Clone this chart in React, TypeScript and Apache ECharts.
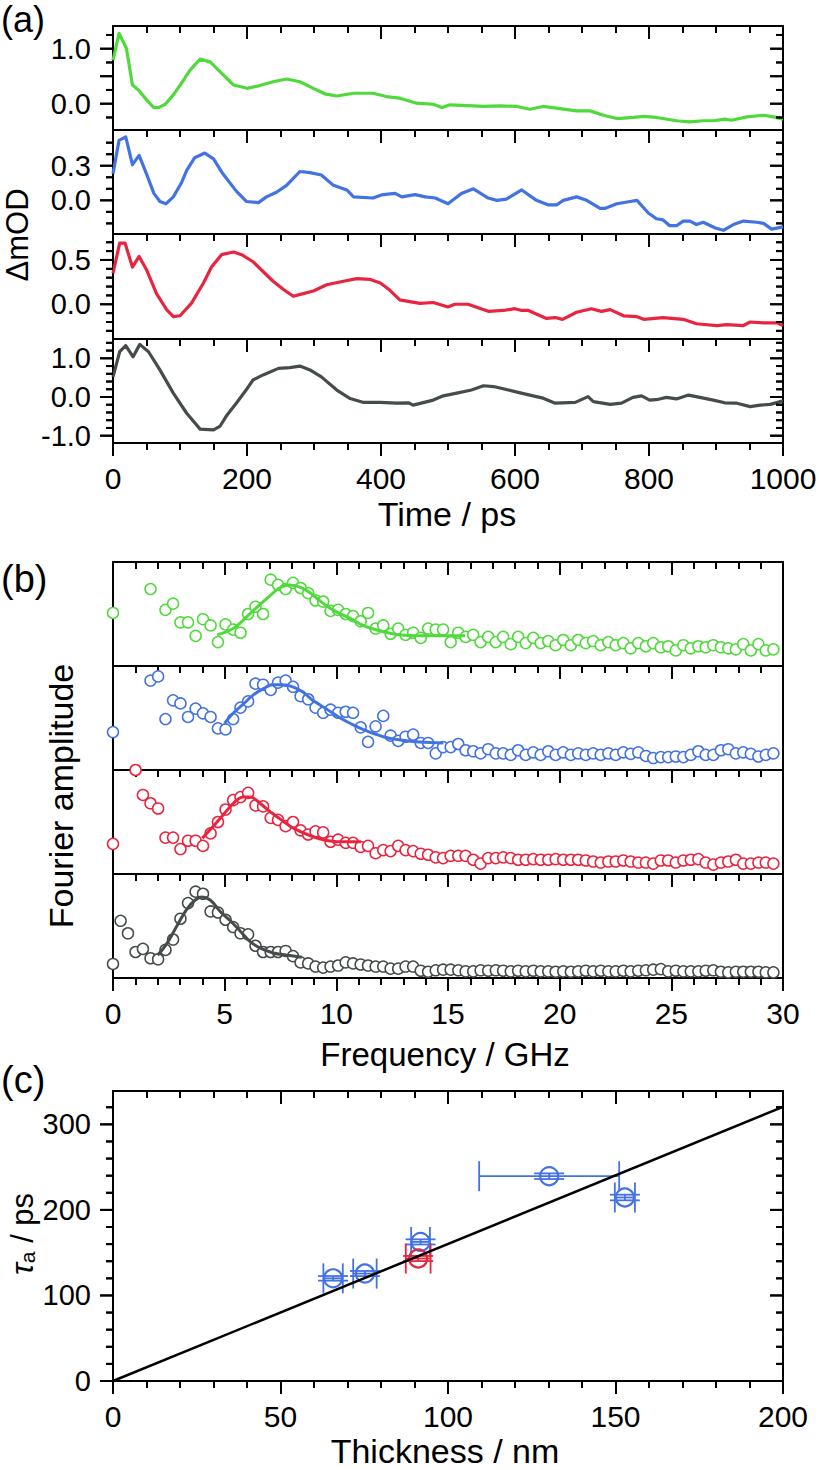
import React, { useEffect, useRef } from "react";
import * as echarts from "echarts";

const FONT = "'Liberation Sans', Arial, Helvetica, sans-serif";

const GREEN = "#4fd93b";
const BLUE = "#4272e3";
const RED = "#e9243f";
const DARK = "#464b4b";

// ---------------- Panel (a): ΔmOD vs time (ps) ----------------
const GREEN_T = [0, 9, 20, 29, 38, 50, 61, 68, 78, 90, 102, 115, 130, 145, 160, 180, 200, 219, 239, 259, 279, 299, 316, 334, 359, 388, 408, 428, 453, 478, 491, 503, 538, 553, 578, 603, 622, 642, 667, 692, 712, 732, 752, 777, 792, 811, 841, 861, 881, 896, 913, 923, 946, 971, 986, 1000];
const GREEN_V = [0.79, 1.28, 1.01, 0.34, 0.25, 0.07, -0.07, -0.07, -0.01, 0.16, 0.37, 0.61, 0.81, 0.76, 0.58, 0.34, 0.28, 0.33, 0.4, 0.45, 0.4, 0.28, 0.18, 0.14, 0.19, 0.19, 0.13, 0.1, 0.01, -0.01, -0.07, -0.02, -0.04, -0.05, -0.04, -0.05, -0.1, -0.05, -0.09, -0.13, -0.13, -0.21, -0.27, -0.25, -0.23, -0.25, -0.31, -0.33, -0.31, -0.31, -0.28, -0.3, -0.24, -0.21, -0.24, -0.28];

const BLUE_T = [0, 9, 19, 29, 39, 50, 61, 70, 79, 90, 102, 110, 122, 137, 150, 164, 184, 199, 217, 229, 244, 259, 279, 294, 311, 329, 349, 359, 388, 403, 421, 431, 451, 466, 481, 500, 520, 538, 560, 573, 587, 610, 632, 650, 662, 672, 692, 707, 727, 734, 752, 772, 782, 799, 811, 821, 831, 841, 851, 861, 871, 881, 899, 911, 926, 941, 961, 971, 983, 1000];
const BLUE_V = [0.23, 0.52, 0.55, 0.31, 0.39, 0.23, 0.06, -0.01, -0.03, 0.03, 0.15, 0.26, 0.37, 0.41, 0.36, 0.23, 0.08, -0.01, -0.02, 0.03, 0.07, 0.13, 0.25, 0.24, 0.22, 0.13, 0.09, 0.03, 0.02, 0.05, 0.06, 0.03, 0.05, 0.03, 0.02, -0.03, 0.06, 0.1, 0.02, 0.0, 0.01, 0.09, 0.0, -0.04, -0.04, 0.0, 0.03, 0.0, -0.07, -0.07, -0.03, -0.01, 0.0, -0.11, -0.16, -0.17, -0.22, -0.22, -0.18, -0.18, -0.21, -0.19, -0.24, -0.26, -0.21, -0.18, -0.19, -0.2, -0.25, -0.23];

const RED_T = [0, 10, 18, 29, 39, 50, 65, 80, 90, 100, 117, 135, 147, 162, 180, 192, 209, 224, 239, 254, 269, 284, 299, 319, 344, 364, 384, 399, 413, 428, 443, 458, 478, 500, 510, 530, 560, 583, 600, 610, 620, 647, 660, 671, 692, 714, 729, 742, 762, 782, 792, 821, 851, 871, 901, 916, 941, 951, 971, 991, 1000];
const RED_V = [0.35, 0.69, 0.69, 0.42, 0.54, 0.39, 0.12, -0.06, -0.14, -0.13, 0.01, 0.24, 0.42, 0.56, 0.59, 0.56, 0.48, 0.37, 0.26, 0.17, 0.09, 0.12, 0.15, 0.22, 0.26, 0.29, 0.28, 0.24, 0.16, 0.05, 0.03, 0.01, 0.02, -0.03, 0.0, 0.0, -0.08, -0.07, -0.05, -0.07, -0.07, -0.16, -0.15, -0.17, -0.09, -0.05, -0.08, -0.06, -0.13, -0.14, -0.17, -0.15, -0.17, -0.22, -0.24, -0.23, -0.24, -0.2, -0.21, -0.21, -0.24];

const BLACK_T = [0, 10, 19, 30, 40, 53, 70, 90, 110, 130, 150, 160, 170, 184, 197, 209, 224, 247, 264, 279, 294, 311, 334, 354, 374, 399, 423, 441, 448, 478, 493, 513, 535, 553, 568, 600, 627, 642, 660, 690, 709, 717, 742, 759, 776, 789, 801, 814, 826, 841, 859, 876, 896, 913, 931, 951, 966, 981, 1000];
const BLACK_V = [0.52, 1.17, 1.33, 1.04, 1.36, 1.17, 0.7, 0.1, -0.42, -0.83, -0.85, -0.75, -0.47, -0.16, 0.14, 0.44, 0.57, 0.74, 0.76, 0.8, 0.7, 0.52, 0.18, -0.04, -0.14, -0.14, -0.16, -0.15, -0.21, -0.08, 0.03, 0.1, 0.18, 0.29, 0.27, 0.14, 0.03, -0.03, -0.16, -0.14, 0.01, -0.12, -0.19, -0.16, -0.01, 0.03, -0.08, -0.06, -0.01, -0.05, 0.05, -0.01, -0.08, -0.15, -0.16, -0.25, -0.21, -0.19, -0.1];

// y ranges and ticks of panel (a)
const A_GREEN_RANGE = [-0.478, 1.413];
const A_GREEN_MAJOR = [0, 0.5, 1.0];
const A_GREEN_MINOR = [-0.25, 0.25, 0.75, 1.25];
const A_BLUE_RANGE = [-0.292, 0.61];
const A_BLUE_MAJOR = [0, 0.3];
const A_BLUE_MINOR = [-0.2, -0.1, 0.1, 0.2, 0.4, 0.5];
const A_RED_RANGE = [-0.392, 0.793];
const A_RED_MAJOR = [0, 0.5];
const A_RED_MINOR = [-0.3, -0.2, -0.1, 0.1, 0.2, 0.3, 0.4, 0.6, 0.7];
const A_BLACK_RANGE = [-1.189, 1.499];
const A_BLACK_MAJOR = [-1, 0, 1];
const A_BLACK_MINOR = [-0.8, -0.6, -0.4, -0.2, 0.2, 0.4, 0.6, 0.8, 1.2, 1.4];

// ---------------- Panel (b): Fourier amplitude (normalised per strip) ----------------
const FREQ = [
  0, 0.34, 0.67, 1.01, 1.34, 1.68, 2.02, 2.35, 2.69, 3.02,
  3.36, 3.7, 4.03, 4.37, 4.7, 5.04, 5.38, 5.71, 6.05, 6.38,
  6.72, 7.06, 7.39, 7.73, 8.06, 8.4, 8.74, 9.07, 9.41, 9.74,
  10.08, 10.42, 10.75, 11.09, 11.42, 11.76, 12.1, 12.43, 12.77, 13.1,
  13.44, 13.78, 14.11, 14.45, 14.78, 15.12, 15.46, 15.79, 16.13, 16.46,
  16.8, 17.14, 17.47, 17.81, 18.14, 18.48, 18.82, 19.15, 19.49, 19.82,
  20.16, 20.5, 20.83, 21.17, 21.5, 21.84, 22.18, 22.51, 22.85, 23.18,
  23.52, 23.86, 24.19, 24.53, 24.86, 25.2, 25.54, 25.87, 26.21, 26.54,
  26.88, 27.22, 27.55, 27.89, 28.22, 28.56, 28.9, 29.23, 29.57,
];
const GREEN_AMP = [
  0.51, null, null, null, null, 0.74, null, 0.54, 0.6, 0.42,
  0.42, 0.29, 0.45, 0.39, 0.23, 0.4, 0.35, 0.32, 0.5, 0.57,
  0.5, 0.83, 0.78, 0.74, 0.8, 0.75, 0.7, 0.63, 0.62, 0.53,
  0.54, 0.5, 0.48, 0.43, 0.51, 0.36, 0.39, 0.31, 0.36, 0.3,
  0.32, 0.27, 0.36, 0.35, 0.35, 0.23, 0.32, 0.28, 0.3, 0.23,
  0.28, 0.23, 0.28, 0.21, 0.28, 0.22, 0.27, 0.22, 0.24, 0.2,
  0.25, 0.2, 0.25, 0.22, 0.24, 0.2, 0.23, 0.2, 0.22, 0.17,
  0.22, 0.19, 0.22, 0.18, 0.19, 0.15, 0.2, 0.17, 0.19, 0.18,
  0.2, 0.18, 0.17, 0.16, 0.21, 0.15, 0.21, 0.15, 0.16,
];
const BLUE_AMP = [
  0.365, null, null, null, null, 0.86, 0.9, 0.49, 0.67, 0.64,
  0.51, 0.59, 0.545, 0.51, 0.4, 0.39, 0.49, 0.6, 0.66, 0.83,
  0.82, 0.77, 0.84, 0.86, 0.8, 0.71, 0.68, 0.6, 0.55, 0.58,
  0.55, 0.56, 0.55, 0.41, 0.27, 0.42, 0.52, 0.33, 0.28, 0.32,
  0.34, 0.26, 0.26, 0.16, 0.22, 0.22, 0.25, 0.19, 0.18, 0.16,
  0.2, 0.16, 0.16, 0.145, 0.19, 0.145, 0.17, 0.145, 0.18, 0.145,
  0.17, 0.145, 0.16, 0.145, 0.16, 0.145, 0.16, 0.145, 0.17, 0.155,
  0.17, 0.135, 0.115, 0.124, 0.124, 0.13, 0.124, 0.145, 0.18, 0.145,
  0.145, 0.19, 0.2, 0.16, 0.17, 0.155, 0.13, 0.145, 0.16,
];
const RED_AMP = [
  0.29, null, null, 1.0, 0.76, 0.68, 0.63, 0.35, 0.35, 0.24,
  0.32, 0.32, 0.27, 0.39, 0.5, 0.62, 0.71, 0.74, 0.78, 0.66,
  0.65, 0.54, 0.52, 0.46, 0.5, 0.42, 0.38, 0.41, 0.4, 0.31,
  0.33, 0.3, 0.3, 0.26, 0.27, 0.2, 0.23, 0.22, 0.27, 0.23,
  0.22, 0.195, 0.185, 0.16, 0.153, 0.175, 0.175, 0.175, 0.137, 0.1,
  0.153, 0.153, 0.16, 0.153, 0.137, 0.137, 0.143, 0.137, 0.137, 0.143,
  0.137, 0.137, 0.137, 0.13, 0.12, 0.11, 0.12, 0.12, 0.13, 0.12,
  0.11, 0.11, 0.1, 0.13, 0.13, 0.11, 0.13, 0.137, 0.143, 0.11,
  0.09, 0.11, 0.12, 0.137, 0.1, 0.1, 0.11, 0.11, 0.1,
];
const BLACK_AMP = [
  0.135, 0.55, 0.43, 0.25, 0.28, 0.19, 0.18, 0.27, 0.37, 0.57,
  0.72, 0.83, 0.81, 0.64, 0.63, 0.56, 0.49, 0.43, 0.42, 0.31,
  0.25, 0.25, 0.25, 0.26, 0.21, 0.15, 0.14, 0.11, 0.1, 0.11,
  0.12, 0.15, 0.14, 0.13, 0.12, 0.11, 0.11, 0.09, 0.09, 0.11,
  0.11, 0.07, 0.06, 0.074, 0.08, 0.08, 0.074, 0.064, 0.064, 0.074,
  0.07, 0.074, 0.07, 0.064, 0.07, 0.064, 0.07, 0.064, 0.064, 0.06,
  0.064, 0.06, 0.064, 0.07, 0.064, 0.07, 0.064, 0.064, 0.07, 0.064,
  0.07, 0.074, 0.08, 0.085, 0.064, 0.07, 0.064, 0.064, 0.064, 0.07,
  0.074, 0.06, 0.054, 0.06, 0.06, 0.06, 0.06, 0.054, 0.054,
];

const GREEN_FIT_F = [4.67, 5.38, 5.97, 6.57, 7.0, 7.45, 7.9, 8.34, 8.79, 9.24, 9.84, 10.6, 11.3, 12.1, 12.8, 13.7, 14.7, 15.76];
const GREEN_FIT_A = [0.3, 0.36, 0.47, 0.59, 0.67, 0.75, 0.78, 0.76, 0.71, 0.63, 0.54, 0.46, 0.38, 0.33, 0.3, 0.29, 0.29, 0.29];
const BLUE_FIT_F = [5.0, 5.38, 5.82, 6.27, 6.72, 7.16, 7.6, 8.05, 8.5, 8.94, 9.54, 10.1, 10.7, 11.3, 12.1, 12.8, 13.7, 14.79];
const BLUE_FIT_A = [0.45, 0.545, 0.63, 0.72, 0.78, 0.82, 0.82, 0.8, 0.75, 0.67, 0.59, 0.51, 0.44, 0.38, 0.32, 0.29, 0.27, 0.26];
const RED_FIT_F = [4.0, 4.49, 4.94, 5.39, 5.84, 6.14, 6.58, 7.03, 7.48, 7.93, 8.37, 8.82, 9.42, 10.17, 11.1];
const RED_FIT_A = [0.345, 0.46, 0.57, 0.68, 0.74, 0.74, 0.68, 0.6, 0.53, 0.46, 0.41, 0.37, 0.33, 0.31, 0.31];
const BLACK_FIT_F = [2.0, 2.41, 2.86, 3.3, 3.68, 3.98, 4.35, 4.8, 5.25, 5.7, 6.14, 6.58, 7.18, 7.78, 8.45];
const BLACK_FIT_A = [0.22, 0.33, 0.5, 0.66, 0.75, 0.78, 0.75, 0.64, 0.55, 0.45, 0.35, 0.29, 0.24, 0.22, 0.2];

// ---------------- Panel (c): τa vs thickness ----------------
const THICK_BLUE = [65.7, 75.2, 91.8, 130.2, 152.8];
const TAU_BLUE = [120, 125.6, 162.6, 239.4, 214.5];
const XERR_BLUE = [2.9, 3.5, 2.8, 20.9, 3.0];
const YERR_BLUE = [2.7, 3.0, 3.0, 3.3, 3.3];
const THICK_RED = [91.1];
const TAU_RED = [143.2];
const XERR_RED = [3.7];
const YERR_RED = [3.0];
const FIT_X = [0, 200];
const FIT_Y = [0, 320.5];
const C_Y_MAJOR = [0, 100, 200, 300];
const C_Y_MINOR = [20, 40, 60, 80, 120, 140, 160, 180, 220, 240, 260, 280, 320];

type PanelCfg = {
  top: number;
  height: number;
  xMin: number;
  xMax: number;
  xInterval: number;
  xMinor: number;
  xLabels: boolean;
  yMin: number;
  yMax: number;
  yMajor: number[] | null;
  yMinor: number[] | null;
  yFmt?: (v: number) => string;
};

type TickPanel = { xi: number; yi: number; xMin: number; xMax: number; major: number[]; minor: number[] };

function errorRender(color: string) {
  return (_params: any, api: any) => {
    const x = api.value(0);
    const y = api.value(1);
    const xe = api.value(2);
    const ye = api.value(3);
    const c = api.coord([x, y]);
    const l = api.coord([x - xe, y]);
    const r = api.coord([x + xe, y]);
    const t = api.coord([x, y + ye]);
    const b = api.coord([x, y - ye]);
    const cap = 15;
    const st = { stroke: color, lineWidth: 1.8, fill: null };
    const ln = (x1: number, y1: number, x2: number, y2: number) => ({
      type: "line",
      shape: { x1, y1, x2, y2 },
      style: st,
    });
    return {
      type: "group",
      children: [
        ln(l[0], c[1], r[0], c[1]),
        ln(l[0], c[1] - cap, l[0], c[1] + cap),
        ln(r[0], c[1] - cap, r[0], c[1] + cap),
        ln(c[0], t[1], c[0], b[1]),
        ln(c[0] - cap, t[1], c[0] + cap, t[1]),
        ln(c[0] - cap, b[1], c[0] + cap, b[1]),
        {
          type: "circle",
          shape: { cx: c[0], cy: c[1], r: 9 },
          style: { stroke: color, lineWidth: 2.2, fill: "none" },
        },
      ],
    };
  };
}

// y tick marks: outward on the left axis, inward on the right axis, placed with api.coord
function yTickRender(xMin: number, xMax: number) {
  return (_params: any, api: any) => {
    const v = api.value(1);
    const len = api.value(2);
    const l = api.coord([xMin, v]);
    const r = api.coord([xMax, v]);
    return {
      type: "group",
      children: [
        { type: "rect", shape: { x: l[0] - len, y: l[1] - 1, width: len, height: 2 }, style: { fill: "#000" } },
        { type: "rect", shape: { x: r[0] - len, y: r[1] - 1, width: len, height: 2 }, style: { fill: "#000" } },
      ],
    };
  };
}

function txt(text: string, x: number, y: number, size: number, rot = 0, align = "center", lh = size) {
  return {
    type: "text",
    x,
    y,
    rotation: rot,
    silent: true,
    style: {
      text,
      fontSize: size,
      lineHeight: lh,
      fontFamily: FONT,
      fill: "#000",
      align,
      verticalAlign: "middle",
      textAlign: align,
      textVerticalAlign: "middle",
    },
  };
}

function buildOption() {
  const grid: any[] = [];
  const xAxis: any[] = [];
  const yAxis: any[] = [];
  const series: any[] = [];
  const tickPanels: TickPanel[] = [];
  const axLine = { show: true, onZero: false, lineStyle: { color: "#000", width: 2 } };
  const tk = { color: "#000", width: 2 };

  function panel(p: PanelCfg) {
    const gi = grid.length;
    grid.push({ left: 113, top: p.top, width: 670, height: p.height, outerBoundsMode: "none" });
    const xi = xAxis.length;
    const xBase = {
      type: "value",
      gridIndex: gi,
      min: p.xMin,
      max: p.xMax,
      interval: p.xInterval,
      splitLine: { show: false },
      axisLine: axLine,
    };
    xAxis.push({
      ...xBase,
      position: "bottom",
      axisTick: { show: p.xLabels, inside: false, length: 13, lineStyle: tk },
      minorTick: { show: p.xLabels, splitNumber: p.xMinor, length: 7, lineStyle: tk },
      axisLabel: {
        show: p.xLabels,
        fontSize: 30,
        fontFamily: FONT,
        color: "#000",
        margin: 20,
        formatter: (v: number) => String(v),
      },
    });
    xAxis.push({
      ...xBase,
      position: "top",
      axisTick: { show: true, inside: true, length: 13, lineStyle: tk },
      minorTick: { show: true, splitNumber: p.xMinor, length: 7, lineStyle: tk },
      axisLabel: { show: false },
    });
    const yi = yAxis.length;
    const yBase = { type: "value", gridIndex: gi, min: p.yMin, max: p.yMax, splitLine: { show: false } };
    yAxis.push({
      ...yBase,
      position: "left",
      axisLine: axLine,
      axisTick: { show: false },
      axisLabel: p.yMajor
        ? {
            show: true,
            customValues: p.yMajor,
            formatter: p.yFmt,
            fontSize: 29,
            lineHeight: 20,
            fontFamily: FONT,
            color: "#000",
            margin: 22,
            showMinLabel: true,
            showMaxLabel: true,
          }
        : { show: false },
    });
    yAxis.push({
      ...yBase,
      position: "right",
      axisLine: axLine,
      axisTick: { show: false },
      axisLabel: { show: false },
    });
    if (p.yMajor && p.yMinor) {
      tickPanels.push({ xi, yi, xMin: p.xMin, xMax: p.xMax, major: p.yMajor, minor: p.yMinor });
    }
    return { xi, yi };
  }

  const fmt1 = (v: number) => v.toFixed(1);

  // ----- (a)
  const aTops = [26, 130, 234, 339];
  const aH = [104, 104, 105, 104];
  const aData = [
    { t: GREEN_T, v: GREEN_V, c: GREEN, r: A_GREEN_RANGE, M: A_GREEN_MAJOR, m: A_GREEN_MINOR },
    { t: BLUE_T, v: BLUE_V, c: BLUE, r: A_BLUE_RANGE, M: A_BLUE_MAJOR, m: A_BLUE_MINOR },
    { t: RED_T, v: RED_V, c: RED, r: A_RED_RANGE, M: A_RED_MAJOR, m: A_RED_MINOR },
    { t: BLACK_T, v: BLACK_V, c: DARK, r: A_BLACK_RANGE, M: A_BLACK_MAJOR, m: A_BLACK_MINOR },
  ];
  aData.forEach((d, i) => {
    const { xi, yi } = panel({
      top: aTops[i],
      height: aH[i],
      xMin: 0,
      xMax: 1000,
      xInterval: 200,
      xMinor: 4,
      xLabels: i === 3,
      yMin: d.r[0],
      yMax: d.r[1],
      yMajor: d.M,
      yMinor: d.m,
      yFmt: fmt1,
    });
    series.push({
      type: "line",
      xAxisIndex: xi,
      yAxisIndex: yi,
      data: d.t.map((t, k) => [t, d.v[k]]),
      symbol: "none",
      silent: true,
      lineStyle: { color: d.c, width: 3.2, join: "round" },
      itemStyle: { color: d.c },
      z: 3,
    });
  });

  // ----- (b)
  const bTops = [562, 666, 770, 874];
  const bH = [104, 104, 104, 104];
  const bData = [
    { a: GREEN_AMP, ff: GREEN_FIT_F, fa: GREEN_FIT_A, c: GREEN },
    { a: BLUE_AMP, ff: BLUE_FIT_F, fa: BLUE_FIT_A, c: BLUE },
    { a: RED_AMP, ff: RED_FIT_F, fa: RED_FIT_A, c: RED },
    { a: BLACK_AMP, ff: BLACK_FIT_F, fa: BLACK_FIT_A, c: DARK },
  ];
  bData.forEach((d, i) => {
    const { xi, yi } = panel({
      top: bTops[i],
      height: bH[i],
      xMin: 0,
      xMax: 30,
      xInterval: 5,
      xMinor: 5,
      xLabels: i === 3,
      yMin: 0,
      yMax: 1,
      yMajor: null,
      yMinor: null,
    });
    series.push({
      type: "scatter",
      xAxisIndex: xi,
      yAxisIndex: yi,
      data: FREQ.map((f, k) => [f, d.a[k]]).filter((p) => p[1] !== null),
      symbol: "circle",
      symbolSize: 11,
      silent: true,
      itemStyle: { color: "#fff", borderColor: d.c, borderWidth: 1.5, opacity: 1 },
      z: 2,
    });
    series.push({
      type: "line",
      xAxisIndex: xi,
      yAxisIndex: yi,
      data: d.ff.map((f, k) => [f, d.fa[k]]),
      symbol: "none",
      smooth: 0.4,
      silent: true,
      lineStyle: { color: d.c, width: 3 },
      z: 4,
    });
  });

  // ----- (c)
  const { xi: cx, yi: cy } = panel({
    top: 1091,
    height: 290,
    xMin: 0,
    xMax: 200,
    xInterval: 50,
    xMinor: 5,
    xLabels: true,
    yMin: 0,
    yMax: 339,
    yMajor: C_Y_MAJOR,
    yMinor: C_Y_MINOR,
    yFmt: (v: number) => String(v),
  });
  series.push({
    type: "custom",
    xAxisIndex: cx,
    yAxisIndex: cy,
    silent: true,
    data: THICK_BLUE.map((x, k) => [x, TAU_BLUE[k], XERR_BLUE[k], YERR_BLUE[k]]),
    renderItem: errorRender(BLUE),
    z: 3,
  });
  series.push({
    type: "custom",
    xAxisIndex: cx,
    yAxisIndex: cy,
    silent: true,
    data: THICK_RED.map((x, k) => [x, TAU_RED[k], XERR_RED[k], YERR_RED[k]]),
    renderItem: errorRender(RED),
    z: 3,
  });
  series.push({
    type: "line",
    xAxisIndex: cx,
    yAxisIndex: cy,
    data: FIT_X.map((x, k) => [x, FIT_Y[k]]),
    symbol: "none",
    silent: true,
    lineStyle: { color: "#000", width: 2.5 },
    z: 4,
  });

  // y tick series, added last
  tickPanels.forEach((tp) => {
    series.push({
      type: "custom",
      xAxisIndex: tp.xi,
      yAxisIndex: tp.yi,
      z: 8,
      data: [...tp.major.map((v) => [tp.xMin, v, 13]), ...tp.minor.map((v) => [tp.xMin, v, 7])],
      renderItem: yTickRender(tp.xMin, tp.xMax),
    });
  });

  const tauLabel = {
    type: "text",
    x: 22,
    y: 1234,
    rotation: Math.PI / 2,
    silent: true,
    style: {
      text: "{t|τ}{s|a}{n| / ps}",
      fill: "#000",
      align: "center",
      verticalAlign: "middle",
      textAlign: "center",
      textVerticalAlign: "middle",
      rich: {
        t: { fontSize: 32, fontStyle: "italic", fontFamily: FONT, lineHeight: 32, fill: "#000" },
        s: { fontSize: 21, fontFamily: FONT, lineHeight: 12, verticalAlign: "bottom", fill: "#000" },
        n: { fontSize: 31, fontFamily: FONT, lineHeight: 32, fill: "#000" },
      },
    },
  };

  const texts = [
    txt("(a)", 1, 19, 36, 0, "left"),
    txt("(b)", 1, 579, 38, 0, "left"),
    txt("(c)", 1, 1080, 38, 0, "left"),
    txt("ΔmOD", 17, 235, 31, Math.PI / 2),
    txt("Time / ps", 447, 514, 34),
    txt("Fourier amplitude", 61, 796, 34, Math.PI / 2),
    txt("Frequency / GHz", 445, 1054, 33),
    tauLabel,
    txt("Thickness / nm", 445, 1451, 34, 0, "center", 24),
  ];

  return {
    option: {
      animation: false,
      backgroundColor: "#fff",
      grid,
      xAxis,
      yAxis,
      series,
      graphic: { elements: texts },
    },
    texts,
    tickPanels,
  };
}

export default function App() {
  const ref = useRef<HTMLDivElement>(null);
  useEffect(() => {
    const chart = echarts.init(ref.current as HTMLDivElement, null, {
      renderer: "svg",
      width: 819,
      height: 1470,
    });
    const { option, texts, tickPanels } = buildOption();
    chart.setOption(option as any);
    // second pass: same tick marks as graphic rects, positioned through the axis scales
    const ticks: any[] = [];
    try {
      tickPanels.forEach((tp) => {
        const finder = { xAxisIndex: tp.xi, yAxisIndex: tp.yi };
        const groups: [number[], number][] = [
          [tp.major, 13],
          [tp.minor, 7],
        ];
        groups.forEach(([vals, len]) => {
          vals.forEach((v) => {
            const l = chart.convertToPixel(finder as any, [tp.xMin, v]) as any;
            const r = chart.convertToPixel(finder as any, [tp.xMax, v]) as any;
            if (!l || !r) return;
            ticks.push({
              type: "rect",
              z: 100,
              silent: true,
              shape: { x: l[0] - len, y: l[1] - 1, width: len, height: 2 },
              style: { fill: "#000" },
            });
            ticks.push({
              type: "rect",
              z: 100,
              silent: true,
              shape: { x: r[0] - len, y: r[1] - 1, width: len, height: 2 },
              style: { fill: "#000" },
            });
          });
        });
      });
    } catch (e) {
      // ignore
    }
    if (ticks.length) {
      chart.setOption({ graphic: { elements: [...texts, ...ticks] } } as any);
    }
    return () => chart.dispose();
  }, []);
  return (
    <div
      ref={ref}
      style={{ position: "absolute", left: 0, top: 0, width: 819, height: 1470, background: "#fff" }}
    />
  );
}
